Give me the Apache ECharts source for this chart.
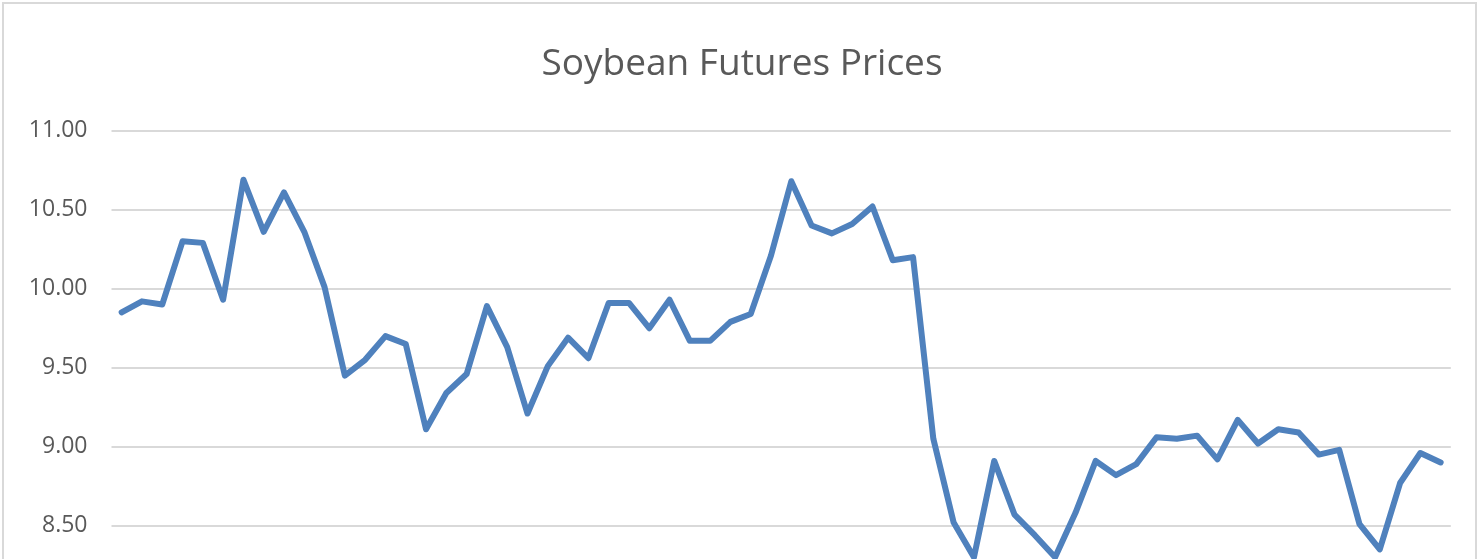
<meta charset="utf-8" />
<script src="https://cdn.jsdelivr.net/npm/echarts@6/dist/echarts.min.js"></script>
<style>
	html, body { margin: 0; padding: 0; overflow: hidden; background: #fff; }
</style>
<div id="soyChart" style="width: 1484px;height:640px;"></div>
<script type="text/javascript">
// chart data
var periods = [];
for (var i = 1; i <= 66; i++) { periods.push(String(i)); }

var prices = [
	9.85, 9.92, 9.90, 10.30, 10.29, 9.93, 10.69, 10.36, 10.61, 10.36,
	10.01, 9.45, 9.55, 9.70, 9.65, 9.11, 9.34, 9.46, 9.89, 9.63,
	9.21, 9.51, 9.69, 9.56, 9.91, 9.91, 9.75, 9.93, 9.67, 9.67,
	9.79, 9.84, 10.21, 10.68, 10.40, 10.35, 10.41, 10.52, 10.18, 10.20,
	9.05, 8.52, 8.30, 8.91, 8.57, 8.44, 8.30, 8.58, 8.91, 8.82,
	8.89, 9.06, 9.05, 9.07, 8.92, 9.17, 9.02, 9.11, 9.09, 8.95,
	8.98, 8.51, 8.35, 8.77, 8.96, 8.90
];

var yMin = 8, yMax = 11, yStep = 0.5;

var myChart = echarts.init(document.getElementById('soyChart'));

var option = {
	animation: false,
	title: {
		text: 'Soybean Futures Prices',
		left: 'center',
		top: 41,
		textStyle: { fontFamily: 'Open Sans', fontSize: 37, fontWeight: 'normal', color: '#595959' }
	},
	graphic: [{
		type: 'rect',
		shape: { x: 3, y: 3, width: 1473, height: 700 },
		style: { fill: 'none', stroke: '#d9d9d9', lineWidth: 2 },
		silent: true
	}],
	grid: { left: 111.5, right: 33.2, top: 130.7, bottom: 35.3 },
	xAxis: {
		type: 'category',
		data: periods,
		boundaryGap: true,
		axisTick: { show: false },
		axisLine: { lineStyle: { color: '#d9d9d9' } },
		axisLabel: { show: false }
	},
	yAxis: {
		type: 'value',
		min: yMin,
		max: yMax,
		interval: yStep,
		axisLine: { show: false },
		axisTick: { show: false },
		axisLabel: {
			margin: 24,
			fontFamily: 'Open Sans',
			fontSize: 23,
			color: '#595959',
			formatter: function (v) { return v.toFixed(2); }
		},
		splitLine: { lineStyle: { color: '#d9d9d9', width: 2 } }
	},
	series: [{
		name: 'Price',
		type: 'line',
		data: prices,
		showSymbol: false,
		smooth: false,
		lineStyle: { color: '#4f81bd', width: 6, cap: 'round', join: 'round' }
	}]
};
myChart.setOption(option);
</script>
